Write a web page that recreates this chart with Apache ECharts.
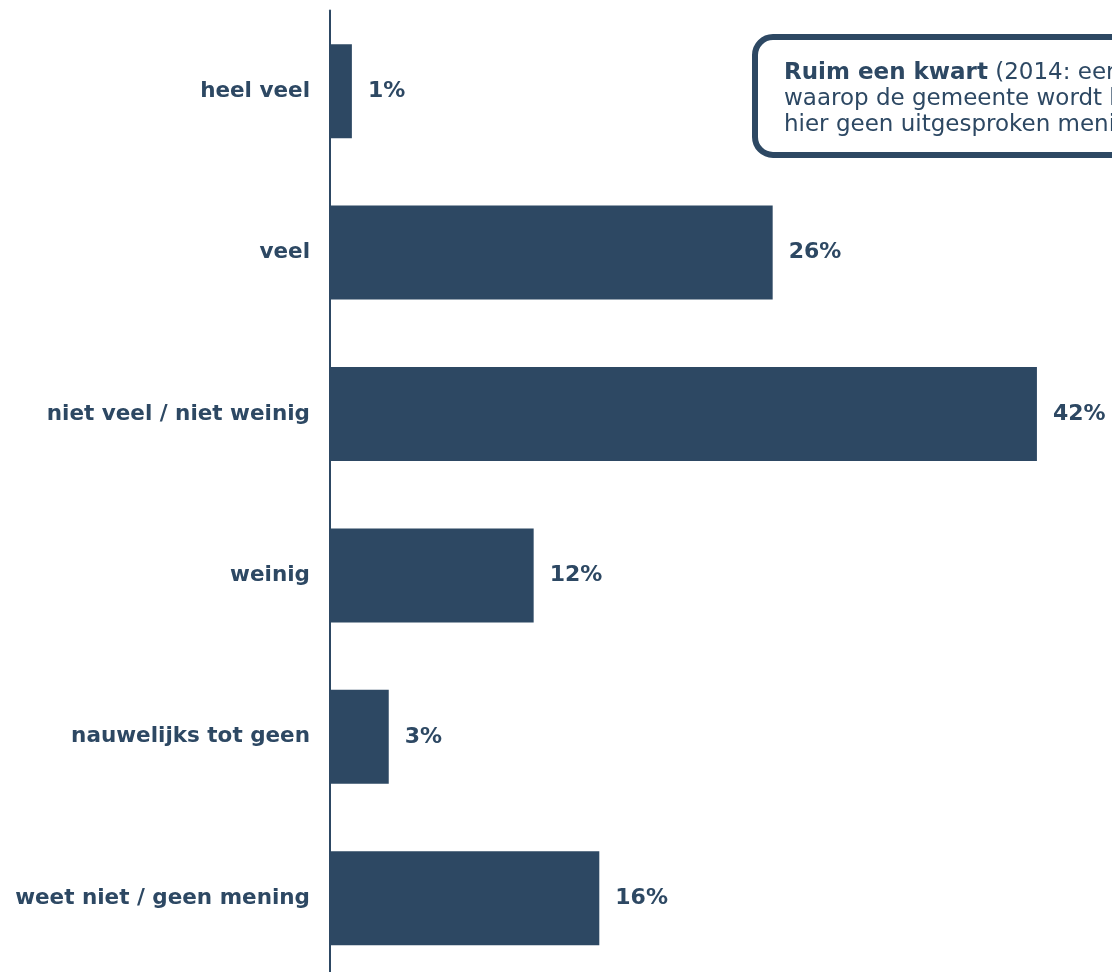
<!DOCTYPE html>
<html><head><meta charset="utf-8">
<script src="https://cdn.jsdelivr.net/npm/echarts@6/dist/echarts.min.js"></script>
<style>html,body{margin:0;padding:0;background:#fff}#c{width:1112px;height:972px}</style>
</head><body><div id="c"></div>
<script>
const categories = ['heel veel', 'veel', 'niet veel / niet weinig', 'weinig', 'nauwelijks tot geen', 'weet niet / geen mening'];
const values = [1.3, 26.3, 42.0, 12.1, 3.49, 16.0];
const noteBold = 'Ruim een kwart';
const noteLines = [
  ' (2014: een kwart) van de inwoners vindt dat de manier',
  'waarop de gemeente wordt bestuurd veel invloed heeft; ruim een op de zes heeft',
  'hier geen uitgesproken mening over.'
];
const C = '#2d4863';
const F = 'DejaVu Sans, Verdana, sans-serif';
const chart = echarts.init(document.getElementById('c'));
chart.setOption({
  animation: false,
  grid: { left: 330, right: 0, top: 10.5, height: 968.4, outerBoundsMode: 'none', containLabel: false },
  xAxis: { type: 'value', min: 0, max: 46.46, show: false },
  yAxis: {
    type: 'category', data: categories, inverse: true,
    axisLine: { show: true, lineStyle: { color: C, width: 2 } },
    axisTick: { show: false },
    axisLabel: { color: C, fontFamily: F, fontWeight: 'bold', fontSize: 21.5, margin: 20 }
  },
  series: [{
    type: 'bar', data: values, barWidth: 94,
    itemStyle: { color: C },
    label: { show: true, position: 'right', distance: 16, color: C, fontFamily: F, fontWeight: 'bold', fontSize: 22,
      formatter: p => Math.round(p.value) + '%' }
  }],
  graphic: [{
    type: 'group', left: 752, top: 34,
    children: [
      { type: 'rect', shape: { x: 0, y: 0, width: 600, height: 118, r: 18 },
        style: { fill: '#fff', stroke: C, lineWidth: 6 } },
      { type: 'text', x: 29, y: 23,
        style: {
          text: '{b|' + noteBold + '}' + noteLines[0] + '\n' + noteLines[1] + '\n' + noteLines[2],
          fill: C, font: '23px ' + F, lineHeight: 26,
          rich: { b: { fontWeight: 'bold', fontSize: 23, fontFamily: F, fill: C, lineHeight: 26 } }
        } }
    ]
  }]
});
</script></body></html>
